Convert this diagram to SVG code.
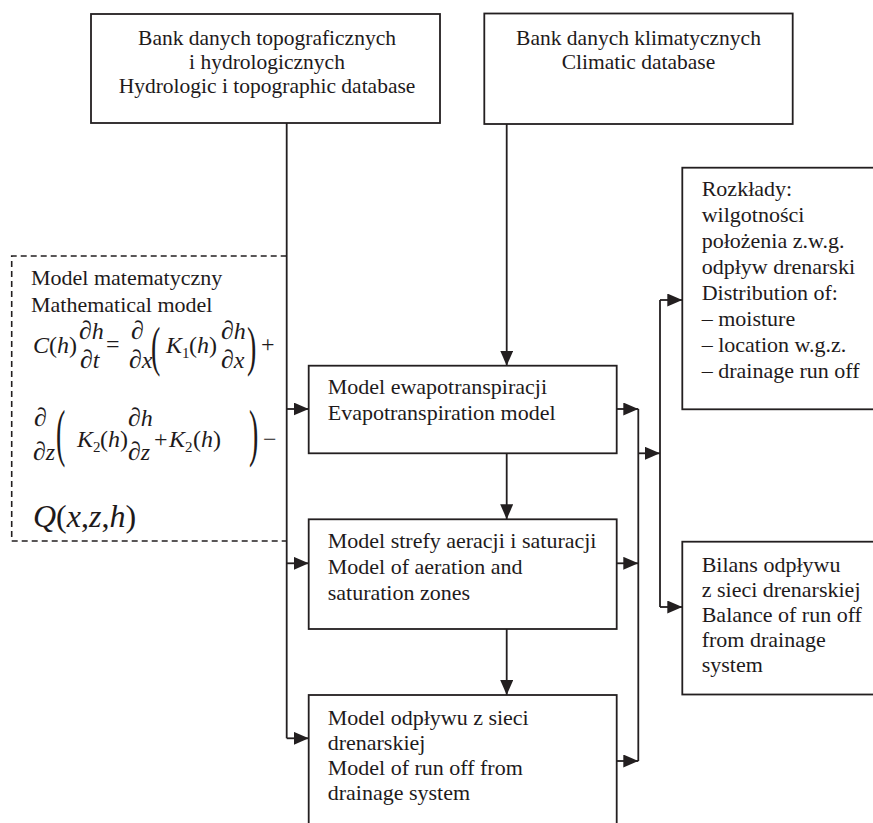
<svg xmlns="http://www.w3.org/2000/svg" width="873" height="823" viewBox="0 0 873 823">
<defs>
<style>
.box{fill:#fff;stroke:#231f20;stroke-width:1.8}
.t{font-family:"Liberation Serif","Times New Roman",serif;font-size:22px;fill:#1e1a1b}
.tc{font-family:"Liberation Serif","Times New Roman",serif;font-size:21.5px;fill:#1e1a1b;text-anchor:middle}
.m{font-family:"Liberation Serif","Times New Roman",serif;font-size:24px;fill:#1e1a1b}
.s{font-family:"Liberation Serif","Times New Roman",serif;font-size:15px;fill:#1e1a1b}
.i{font-style:italic}
.p{font-size:26px}
.c{fill:none;stroke:#231f20;stroke-width:1.8}
.ca{fill:none;stroke:#231f20;stroke-width:1.8;marker-end:url(#ah)}
.d{fill:none;stroke:#231f20;stroke-width:1.6;stroke-dasharray:6 4}
</style>
<marker id="ah" markerUnits="userSpaceOnUse" markerWidth="16" markerHeight="14" refX="15" refY="6.5" orient="auto">
<path d="M0,0 L15,6.5 L0,13 z" fill="#231f20"/>
</marker>
</defs>

<g id="connectors">
<path class="c" d="M286.7,123 V738.3"/>
<path class="ca" d="M286.7,409 H308.7"/>
<path class="ca" d="M286.7,563.3 H308.7"/>
<path class="ca" d="M286.7,738.3 H308.7"/>
<path class="ca" d="M506.7,124 V365.7"/>
<path class="ca" d="M506.7,453.3 V519.3"/>
<path class="ca" d="M506.7,629 V695"/>
<path class="ca" d="M616.7,409 H638.3"/>
<path class="ca" d="M616.7,563.3 H638.3"/>
<path class="ca" d="M616.7,761 H638.3"/>
<path class="c" d="M638.3,409 V761"/>
<path class="ca" d="M638.3,453.3 H660"/>
<path class="c" d="M660,300 V607"/>
<path class="ca" d="M660,300 H682.3"/>
<path class="ca" d="M660,607 H682.3"/>
</g>

<g id="topo">
<rect class="box" x="91" y="14" width="349" height="109"/>
<text class="tc" x="267" y="45">Bank danych topograficznych</text>
<text class="tc" x="267" y="69">i hydrologicznych</text>
<text class="tc" x="267" y="93">Hydrologic i topographic database</text>
</g>

<g id="climatic">
<rect class="box" x="484.3" y="13.5" width="308.4" height="110.5"/>
<text class="tc" x="638.5" y="45">Bank danych klimatycznych</text>
<text class="tc" x="638.5" y="69">Climatic database</text>
</g>

<g id="math">
<path class="d" d="M286.7,256 H11.7 V541 H286.7"/>
<text class="t" x="31" y="285">Model matematyczny</text>
<text class="t" x="31" y="311.5">Mathematical model</text>
<text class="m" x="33" y="353"><tspan class="i">C</tspan>(<tspan class="i">h</tspan>)</text>
<text class="m" x="79" y="339"><tspan class="p">∂</tspan><tspan class="i">h</tspan></text>
<text class="m" x="80" y="368"><tspan class="p">∂</tspan><tspan class="i">t</tspan></text>
<text class="m" x="106" y="352">=</text>
<text class="m" x="131" y="339"><tspan class="p">∂</tspan></text>
<text class="m" x="129" y="368"><tspan class="p">∂</tspan><tspan class="i">x</tspan></text>
<text class="m" transform="translate(151,365) scale(1,1.95)" style="font-size:28px">(</text>
<text class="m" x="166" y="353"><tspan class="i">K</tspan></text>
<text class="s" x="182" y="358">1</text>
<text class="m" x="189" y="353">(<tspan class="i">h</tspan>)</text>
<text class="m" x="221" y="339"><tspan class="p">∂</tspan><tspan class="i">h</tspan></text>
<text class="m" x="221" y="368"><tspan class="p">∂</tspan><tspan class="i">x</tspan></text>
<text class="m" transform="translate(247,365) scale(1,1.95)" style="font-size:28px">)</text>
<text class="m" x="261" y="352">+</text>

<text class="m" x="34" y="426"><tspan class="p">∂</tspan></text>
<text class="m" x="33" y="460"><tspan class="p">∂</tspan><tspan class="i">z</tspan></text>
<text class="m" transform="translate(56,454) scale(1,2.3)" style="font-size:28px">(</text>
<text class="m" x="77" y="447"><tspan class="i">K</tspan></text>
<text class="s" x="93" y="452">2</text>
<text class="m" x="100" y="447">(<tspan class="i">h</tspan>)</text>
<text class="m" x="128" y="426"><tspan class="p">∂</tspan><tspan class="i">h</tspan></text>
<text class="m" x="128" y="460"><tspan class="p">∂</tspan><tspan class="i">z</tspan></text>
<text class="m" x="154" y="447">+</text>
<text class="m" x="169" y="447"><tspan class="i">K</tspan></text>
<text class="s" x="185" y="452">2</text>
<text class="m" x="193" y="447">(<tspan class="i">h</tspan>)</text>
<text class="m" transform="translate(249,454) scale(1,2.3)" style="font-size:28px">)</text>
<text class="m" x="263" y="447">−</text>

<text class="m" x="33" y="527" style="font-size:32px"><tspan class="i">Q</tspan>(<tspan class="i">x</tspan>,<tspan class="i">z</tspan>,<tspan class="i">h</tspan>)</text>
</g>

<g id="evapo">
<rect class="box" x="308.7" y="365.7" width="308" height="87.6"/>
<text class="t" x="327.7" y="394.3">Model ewapotranspiracji</text>
<text class="t" x="327.7" y="420">Evapotranspiration model</text>
</g>

<g id="aeration">
<rect class="box" x="308.7" y="519.3" width="308" height="109.7"/>
<text class="t" x="327.7" y="548.3">Model strefy aeracji i saturacji</text>
<text class="t" x="327.7" y="574">Model of aeration and</text>
<text class="t" x="327.7" y="599.5">saturation zones</text>
</g>

<g id="runoff">
<rect class="box" x="308.7" y="695" width="308" height="140"/>
<text class="t" x="327.7" y="725">Model odpływu z sieci</text>
<text class="t" x="327.7" y="750">drenarskiej</text>
<text class="t" x="327.7" y="775">Model of run off from</text>
<text class="t" x="327.7" y="800">drainage system</text>
</g>

<g id="distribution">
<rect class="box" x="682.3" y="167.7" width="200" height="241.6"/>
<text class="t" x="701.7" y="196">Rozkłady:</text>
<text class="t" x="701.7" y="222">wilgotności</text>
<text class="t" x="701.7" y="248">położenia z.w.g.</text>
<text class="t" x="701.7" y="274">odpływ drenarski</text>
<text class="t" x="701.7" y="300">Distribution of:</text>
<text class="t" x="701.7" y="326">– moisture</text>
<text class="t" x="701.7" y="352">– location w.g.z.</text>
<text class="t" x="701.7" y="378">– drainage run off</text>
</g>

<g id="balance">
<rect class="box" x="682.3" y="541.7" width="200" height="152.8"/>
<text class="t" x="701.7" y="571.5">Bilans odpływu</text>
<text class="t" x="701.7" y="596.5">z sieci drenarskiej</text>
<text class="t" x="701.7" y="621.5">Balance of run off</text>
<text class="t" x="701.7" y="646.5">from drainage</text>
<text class="t" x="701.7" y="671.5">system</text>
</g>
</svg>
